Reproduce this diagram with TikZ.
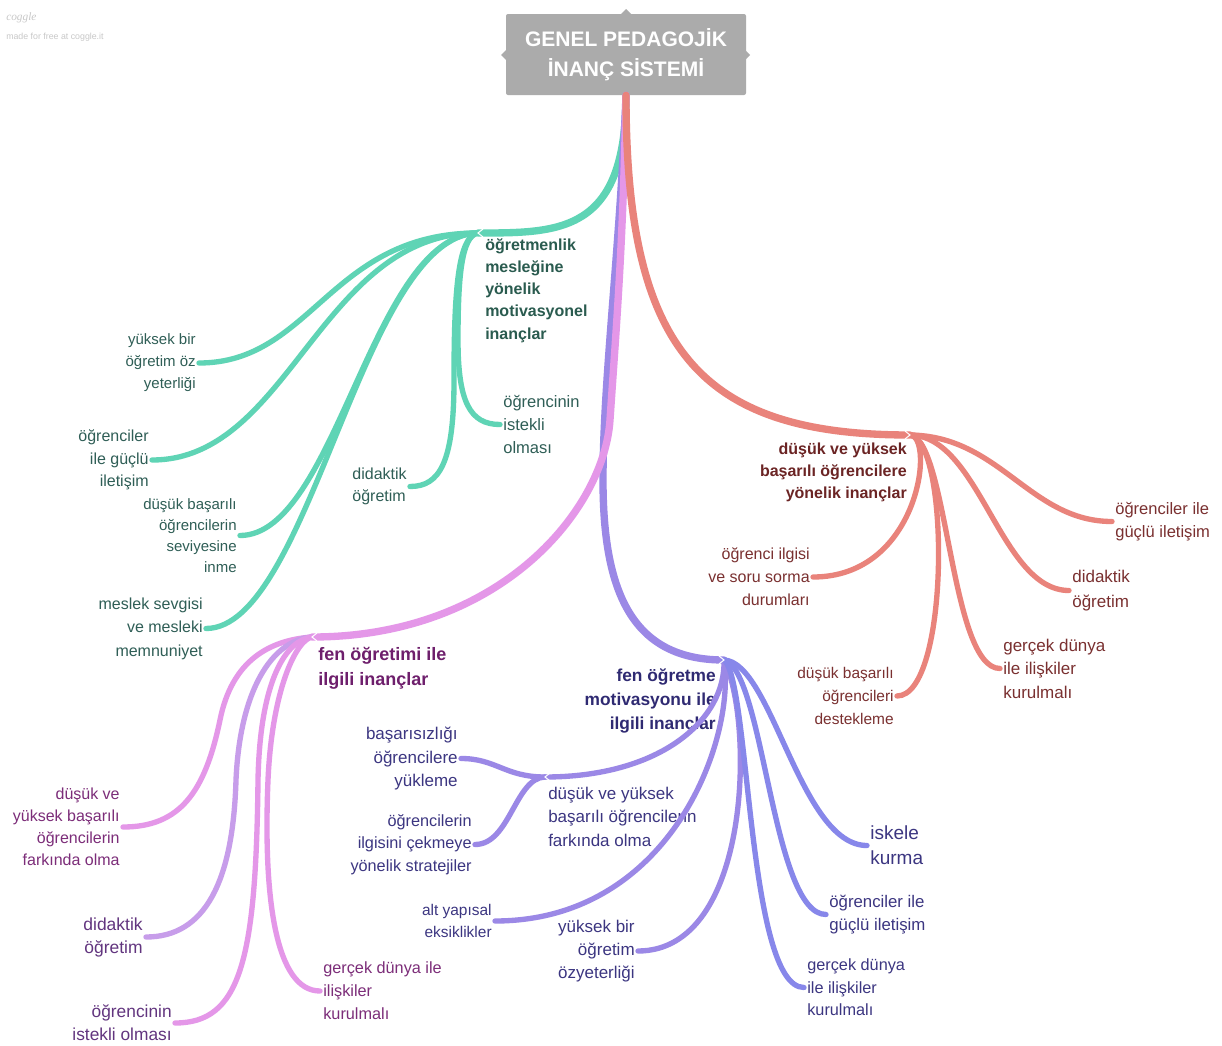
\documentclass[tikz,border=0pt]{standalone}
\usepackage{fontspec}
\setmainfont{Liberation Sans}
\newfontfamily\logofont{Liberation Serif}
\newcommand\fsz[2]{\fontsize{#1pt}{#2pt}\selectfont}

\definecolor{rootgray}{HTML}{ABABAB}
\definecolor{tealline}{HTML}{5FD4B5}
\definecolor{tealtext}{HTML}{2F5E56}
\definecolor{tealhead}{HTML}{2A5B4F}
\definecolor{redline}{HTML}{E9837B}
\definecolor{redtext}{HTML}{7A3030}
\definecolor{redhead}{HTML}{6B2424}
\definecolor{pinkline}{HTML}{E497E8}
\definecolor{lavline}{HTML}{C79DEA}
\definecolor{pinktext}{HTML}{7C2D79}
\definecolor{plumtext}{HTML}{62357F}
\definecolor{pinkhead}{HTML}{6E1F6C}
\definecolor{violine}{HTML}{9B88E6}
\definecolor{blueline}{HTML}{8787EA}
\definecolor{viotext}{HTML}{3C3681}
\definecolor{viohead}{HTML}{2F2A72}
\definecolor{logogray}{HTML}{C8C8C8}

\begin{document}
\begin{tikzpicture}[x=0.75pt,y=-0.75pt,
  every node/.style={inner sep=0pt},
  branch/.style={line width=5.5pt,line cap=round},
  twig/.style={line width=4pt,line cap=round},
  leafL/.style={anchor=west,align=left,inner xsep=2.3pt},
  leafR/.style={anchor=east,align=right,inner xsep=2.3pt},
  notch/.style={white,line width=0.8pt},
]
\useasboundingbox (0,0) rectangle (1222,1046);
\fill[white] (0,0) rectangle (1222,1046);

% logo
\node[anchor=west,text=logogray,font=\logofont\itshape\fsz{8.5}{10}] (logo) at (6,18) {coggle};
\node[anchor=west,text=logogray,font=\fsz{6.6}{8}] (made) at (6,37) {made for free at coggle.it};

% root
\fill[rootgray] (621,14) -- (626,9) -- (631,14) -- cycle;
\fill[rootgray] (506,50) -- (501,55) -- (506,60) -- cycle;
\fill[rootgray] (745,50) -- (750,55) -- (745,60) -- cycle;
\node[fill=rootgray,rounded corners=1.5pt,minimum width=180pt,minimum height=60.75pt,
      text=white,font=\bfseries\fsz{15.75}{22.5},align=center] (root) at (626,54.5)
      {GENEL PEDAGOJİK\\İNANÇ SİSTEMİ};

% junctions
\coordinate (TJ) at (478,233);
\coordinate (RJ) at (910,435);
\coordinate (PJ) at (312,637);
\coordinate (UJ) at (724,660);
\coordinate (SJ) at (545,777);

% ---------- teal group ----------
\node[anchor=west,align=left,text=tealhead,font=\bfseries\fsz{12}{16.7}] (thead) at (485,290.5)
  {öğretmenlik\\mesleğine\\yönelik\\motivasyonel\\inançlar};
\node[leafR,text=tealtext,font=\fsz{11.25}{16.5}] (t1) at (199,363) {yüksek bir\\öğretim öz\\yeterliği};
\node[leafR,text=tealtext,font=\fsz{12}{16.9}] (t2) at (152,460) {öğrenciler\\ile güçlü\\iletişim};
\node[leafR,text=tealtext,font=\fsz{11.25}{15.75}] (t3) at (240,535.5) {düşük başarılı\\öğrencilerin\\seviyesine\\inme};
\node[leafR,text=tealtext,font=\fsz{12}{17.6}] (t4) at (206,628.5) {meslek sevgisi\\ve mesleki\\memnuniyet};
\node[anchor=east,align=left,inner xsep=2.3pt,text=tealtext,font=\fsz{12}{16.5}] (t5) at (410,486.5) {didaktik\\öğretim};
\node[leafL,text=tealtext,font=\fsz{12.4}{17.6}] (t6) at (500,424.5) {öğrencinin\\istekli\\olması};

\draw[branch,tealline] (root.south) .. controls (626,233) and (560,233) .. (TJ);
\begin{scope}[twig,tealline]
\draw (TJ) .. controls (330,233) and (312,363) .. (t1.east);
\draw (TJ) .. controls (320,233) and (290,460) .. (t2.east);
\draw (TJ) .. controls (372,235) and (336,535.5) .. (t3.east);
\draw (TJ) .. controls (362,235) and (310,628.5) .. (t4.east);
\draw (TJ) .. controls (458,236) and (454,290) .. (454,380) .. controls (454,462) and (440,486.5) .. (t5.east);
\draw (TJ) .. controls (461,236) and (458,280) .. (458,340) .. controls (458,402) and (470,424.5) .. (t6.west);
\end{scope}
\draw[notch] ([shift={(5,-4)}]TJ) -- (TJ) -- ([shift={(5,4)}]TJ);

% ---------- purple group ----------
\coordinate (pv) at (603,480);
\draw[branch,violine] (root.south) .. controls (620,250) and (603,380) .. (pv)
   .. controls (603,592) and (632,660) .. (UJ);

\node[anchor=east,align=right,text=viohead,font=\bfseries\fsz{13}{18}] (uhead) at (716,701)
  {fen öğretme\\motivasyonu ile\\ilgili inançlar};
\node[anchor=west,align=left,text=viotext,font=\fsz{12.75}{17.6}] (u0) at (548,816.5)
  {düşük ve yüksek\\başarılı öğrencilerin\\farkında olma};
\node[leafR,text=viotext,font=\fsz{12.75}{17.6}] (u1) at (461,758.5) {başarısızlığı\\öğrencilere\\yükleme};
\node[leafR,text=viotext,font=\fsz{12.2}{16.9}] (u2) at (475,844.5) {öğrencilerin\\ilgisini çekmeye\\yönelik stratejiler};
\node[leafR,text=viotext,font=\fsz{11.6}{16.5}] (u3) at (495,921) {alt yapısal\\eksiklikler};
\node[leafR,text=viotext,font=\fsz{12.75}{17.25}] (u4) at (638,951) {yüksek bir\\öğretim\\özyeterliği};
\node[leafL,text=viotext,font=\fsz{12.2}{16.9}] (u5) at (804,987.5) {gerçek dünya\\ile ilişkiler\\kurulmalı};
\node[leafL,text=viotext,font=\fsz{12.6}{17.25}] (u6) at (826,914.5) {öğrenciler ile\\güçlü iletişim};
\node[leafL,text=viotext,font=\fsz{14.25}{18.75}] (u7) at (867,845.5) {iskele\\kurma};

\begin{scope}[twig]
\draw[violine] (UJ) .. controls (726,720) and (660,777) .. (SJ);
\draw[violine] (SJ) .. controls (505,777) and (496,758.5) .. (u1.east);
\draw[violine] (SJ) .. controls (515,778) and (510,844.5) .. (u2.east);
\draw[violine] (UJ) .. controls (736,740) and (670,921) .. (u3.east);
\draw[violine] (UJ) .. controls (754,720) and (752,951) .. (u4.east);
\draw[blueline] (UJ) .. controls (750,680) and (747,987.5) .. (u5.west);
\draw[blueline] (UJ) .. controls (764,670) and (772,914.5) .. (u6.west);
\draw[blueline] (UJ) .. controls (772,662) and (800,845.5) .. (u7.west);
\end{scope}
\draw[notch] ([shift={(-5,-4)}]UJ) -- (UJ) -- ([shift={(-5,4)}]UJ);
\draw[notch] ([shift={(5,-4)}]SJ) -- (SJ) -- ([shift={(5,4)}]SJ);

% ---------- pink group ----------
\coordinate (pk) at (610,420);
\draw[branch,pinkline] (root.south) .. controls (623,250) and (616,330) .. (pk)
   .. controls (604,510) and (500,637) .. (PJ);

\node[anchor=west,align=left,text=pinkhead,font=\bfseries\fsz{13.5}{18.75}] (phead) at (318,668.5)
  {fen öğretimi ile\\ilgili inançlar};
\node[leafR,text=pinktext,font=\fsz{12}{16.5}] (p1) at (123,827) {düşük ve\\yüksek başarılı\\öğrencilerin\\farkında olma};
\node[leafR,text=plumtext,font=\fsz{13.1}{17.25}] (p2) at (146,937) {didaktik\\öğretim};
\node[leafR,text=plumtext,font=\fsz{13}{17.25}] (p3) at (175,1023) {öğrencinin\\istekli olması};
\node[leafL,text=pinktext,font=\fsz{12.2}{17.25}] (p4) at (320,991) {gerçek dünya ile\\ilişkiler\\kurulmalı};

\begin{scope}[twig]
\draw[pinkline] (PJ) .. controls (270,640) and (232,660) .. (220,720) .. controls (205,792) and (180,827) .. (p1.east);
\draw[lavline] (PJ) .. controls (272,640) and (240,690) .. (236,780) .. controls (233,882) and (205,937) .. (p2.east);
\draw[pinkline] (PJ) .. controls (286,640) and (260,680) .. (258,780) .. controls (256,962) and (240,1023) .. (p3.east);
\draw[pinkline] (PJ) .. controls (296,640) and (272,690) .. (268,780) .. controls (263,900) and (276,991) .. (p4.west);
\end{scope}
\draw[notch] ([shift={(5,-4)}]PJ) -- (PJ) -- ([shift={(5,4)}]PJ);

% ---------- red group ----------
\draw[branch,redline] (root.south) .. controls (626,350) and (700,435) .. (RJ);

\node[anchor=east,align=right,text=redhead,font=\bfseries\fsz{12}{16.5}] (rhead) at (907,472)
  {düşük ve yüksek\\başarılı öğrencilere\\yönelik inançlar};
\node[leafL,text=redtext,font=\fsz{12.4}{17.25}] (r1) at (1112,521.5) {öğrenciler ile\\güçlü iletişim};
\node[leafL,text=redtext,font=\fsz{12.75}{18.75}] (r2) at (1069,590.5) {didaktik\\öğretim};
\node[leafL,text=redtext,font=\fsz{12.75}{17.6}] (r3) at (1000,668.5) {gerçek dünya\\ile ilişkiler\\kurulmalı};
\node[leafR,text=redtext,font=\fsz{12}{17.25}] (r4) at (813,577) {öğrenci ilgisi\\ve soru sorma\\durumları};
\node[leafR,text=redtext,font=\fsz{11.6}{17.25}] (r5) at (897,696) {düşük başarılı\\öğrencileri\\destekleme};

\begin{scope}[twig,redline]
\draw (RJ) .. controls (1000,436) and (1030,521.5) .. (r1.west);
\draw (RJ) .. controls (980,436) and (1000,590.5) .. (r2.west);
\draw (RJ) .. controls (948,440) and (950,668.5) .. (r3.west);
\draw (RJ) .. controls (950,440) and (950,696) .. (r5.east);
\draw (RJ) .. controls (935,436) and (920,577) .. (r4.east);
\end{scope}
\draw[notch] ([shift={(-5,-4)}]RJ) -- (RJ) -- ([shift={(-5,4)}]RJ);

\end{tikzpicture}
\end{document}
